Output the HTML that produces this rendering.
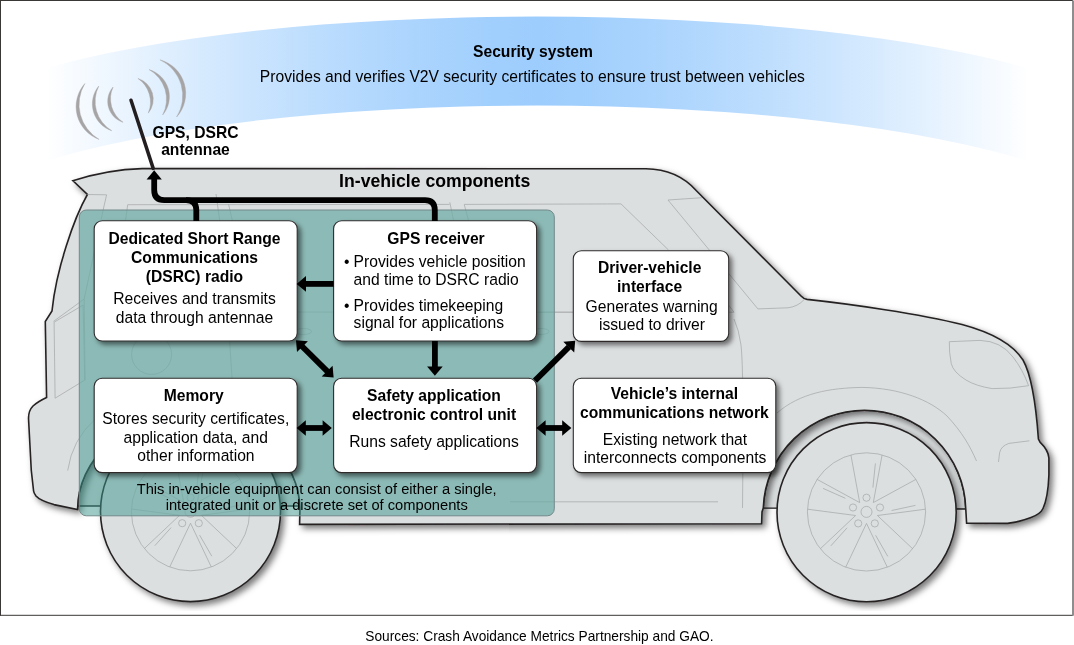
<!DOCTYPE html>
<html>
<head>
<meta charset="utf-8">
<title>In-vehicle components</title>
<style>
html,body{margin:0;padding:0;background:#fff;}
body{width:1074px;height:645px;overflow:hidden;font-family:"Liberation Sans",sans-serif;}
svg{display:block;}
text{font-family:"Liberation Sans",sans-serif;fill:#000;}
.b{font-weight:bold;}
.t{font-size:15.65px;}
</style>
</head>
<body>
<svg width="1074" height="645" viewBox="0 0 1074 645">
<defs>
  <linearGradient id="sky" x1="45" y1="0" x2="1030" y2="0" gradientUnits="userSpaceOnUse">
    <stop offset="0.00" stop-color="#9dcdfd" stop-opacity="0.000"/>
    <stop offset="0.05" stop-color="#9dcdfd" stop-opacity="0.134"/>
    <stop offset="0.10" stop-color="#9dcdfd" stop-opacity="0.265"/>
    <stop offset="0.15" stop-color="#9dcdfd" stop-opacity="0.392"/>
    <stop offset="0.20" stop-color="#9dcdfd" stop-opacity="0.513"/>
    <stop offset="0.25" stop-color="#9dcdfd" stop-opacity="0.624"/>
    <stop offset="0.30" stop-color="#9dcdfd" stop-opacity="0.725"/>
    <stop offset="0.35" stop-color="#9dcdfd" stop-opacity="0.815"/>
    <stop offset="0.40" stop-color="#9dcdfd" stop-opacity="0.891"/>
    <stop offset="0.45" stop-color="#9dcdfd" stop-opacity="0.953"/>
    <stop offset="0.50" stop-color="#9dcdfd" stop-opacity="1.000"/>
    <stop offset="0.55" stop-color="#9dcdfd" stop-opacity="0.953"/>
    <stop offset="0.60" stop-color="#9dcdfd" stop-opacity="0.891"/>
    <stop offset="0.65" stop-color="#9dcdfd" stop-opacity="0.815"/>
    <stop offset="0.70" stop-color="#9dcdfd" stop-opacity="0.725"/>
    <stop offset="0.75" stop-color="#9dcdfd" stop-opacity="0.624"/>
    <stop offset="0.80" stop-color="#9dcdfd" stop-opacity="0.513"/>
    <stop offset="0.85" stop-color="#9dcdfd" stop-opacity="0.392"/>
    <stop offset="0.90" stop-color="#9dcdfd" stop-opacity="0.265"/>
    <stop offset="0.95" stop-color="#9dcdfd" stop-opacity="0.134"/>
    <stop offset="1.00" stop-color="#9dcdfd" stop-opacity="0.000"/>
  </linearGradient>
  <filter id="carsh" x="-5%" y="-5%" width="110%" height="110%">
    <feDropShadow dx="3.4" dy="3.4" stdDeviation="3" flood-color="#000" flood-opacity="0.52"/>
  </filter>
  <filter id="boxsh" x="-10%" y="-10%" width="125%" height="125%">
    <feDropShadow dx="3.2" dy="3.2" stdDeviation="2.7" flood-color="#000" flood-opacity="0.52"/>
  </filter>
  
  <clipPath id="inT"><rect x="79.3" y="210" width="475" height="305.8" rx="7"/></clipPath>
  <clipPath id="outT"><path clip-rule="evenodd" d="M0,0H1074V645H0Z M79.3,210H554.3V515.8H79.3Z"/></clipPath>
  
  
</defs>

<!-- background -->
<rect x="0" y="0" width="1074" height="645" fill="#fff"/>

<!-- sky swoosh -->
<path id="swoosh" d="M40,70 A600,121.5 0 0 1 1034,70 L1034,163.1 A590,124.8 0 0 0 40,163.1 Z" fill="url(#sky)"/>

<!-- antenna waves -->
<g id="waves" fill="#a6a4a5" stroke="#a6a4a5" stroke-width="0.4" stroke-linejoin="round">
  <path d="M84.9,83.5 A34.8,34.8 0 0 0 99.1,139.4 A40.5,40.5 0 0 1 84.9,83.5 Z"/>
  <path d="M98.8,86 A28.2,28.2 0 0 0 111.7,130.7 A34.2,34.2 0 0 1 98.8,86 Z"/>
  <path d="M113.1,87 A21.9,21.9 0 0 0 123.1,122.3 A28.2,28.2 0 0 1 113.1,87 Z"/>
  <path d="M137.9,78.4 A21.8,21.8 0 0 1 148.3,113.1 A28.7,28.7 0 0 0 137.9,78.4 Z"/>
  <path d="M149.1,69.6 A28.2,28.2 0 0 1 162.7,114.9 A33.9,33.9 0 0 0 149.1,69.6 Z"/>
  <path d="M159.9,59.8 A34.9,34.9 0 0 1 176.6,117 A39.7,39.7 0 0 0 159.9,59.8 Z"/>
</g>

<!-- car -->
<g id="car">
  <!-- wheel wells -->
  <g fill="#dcdfe0" stroke="#262324" stroke-width="1.5">
    <path d="M763.26,508 A101.3,101.3 0 0 1 864.5,410.2 A101.3,101.3 0 0 1 965.77,509 Z"/>
    <path d="M77.55,506 L77.55,509.5 A111.2,95 0 0 1 188.75,414.5 A111.2,95 0 0 1 299.95,509.5 L299.95,506 Z"/>
  </g>
  <g filter="url(#carsh)">
    <path id="body" d="M72.8,180.7 Q108,169.5 142,168.6 L646,168.8 C668,169 684,177 696.4,190.7 L801,296 Q803.5,298.8 807,299.4 C850,304 920,314 962,324.5 C990,332 1012,343 1023,360 C1032,376 1036,405 1038.4,439 L1040.2,442.4 C1044.5,446.5 1048.3,451 1048.9,458 L1048.9,475 C1048.3,490 1046,502 1043,508.5 Q1040.5,514 1031,517.5 Q1018,522.3 1007.5,523.4 L966.6,523.2 L965.77,509 A101.3,101.3 0 0 0 864.5,410.2 A101.3,101.3 0 0 0 763.26,508 L762,512 L761.6,523.7 L299.6,524.4 L299.95,509.5 A111.2,95 0 0 0 188.75,414.5 A111.2,95 0 0 0 77.55,509.5 L54,504.6 Q40,500.5 36,496 Q33.8,493 33.6,491 L31.3,470.5 L28.6,420 Q28,411 33,406 Q38,401.5 46.6,397.5 L45.3,321.5 L52,311 C56,270 74,218 87.4,194.5 Z" fill="#dcdfe0" stroke="#262324" stroke-width="1.6" stroke-linejoin="miter"/>
  </g>
  <!-- interior detail lines -->
  <g fill="none" stroke="#a9acad" stroke-width="0.8" clip-path="url(#outT)">
    <path d="M87.4,194.5 L106.6,194.8 L103.8,207 L84.2,299 L53.5,321.4"/>
    <path d="M54.1,322.2 L83.1,305.1 L84.8,380.1 L55.1,398.2 Z"/>
    <path d="M84.2,299 L85,380"/>
    <path d="M125.6,220 L127.7,204.7 L449.5,204.4 M449.8,202.3 L453.5,220 M468.4,220 L464.2,204.4 L621,203.9 L668.5,250"/>
    <path d="M216,194 L219.7,220.4 M228.5,204 L232.3,220.4"/>
    <path d="M728.5,305 L734,312.2 M540,312.2 L573,312.2 M728,312.2 L734,312.2 M734,319 Q739,330 741,345 Q744,370 742.5,508"/>
    <path d="M757.9,308.9 L668,200 L702,197.7 M757.9,308.9 L788,307.8 Q798,306.5 804,299.7"/>
    <circle cx="151.6" cy="354.4" r="20"/>
    <ellipse cx="303.5" cy="331.5" rx="8" ry="3"/>
    <ellipse cx="541" cy="331.5" rx="8" ry="3"/>
    <path d="M232,312 L573,312.2"/>
    <path d="M228,220 Q226,300 232,378"/>
    <path d="M67.7,470.5 Q72,440 95,419.3"/>
    <path d="M510,501.8 L718,501.8"/>
    <!-- headlight -->
    <path d="M949.3,341.7 L980,340.4 Q1001,341 1013,357 Q1023,370 1028.6,385.7 Q1010,389 992.1,388.6 Q976,386 966.1,380.1 Q953,372 951.2,363.3 Q949,352 949.3,341.7 Z"/>
    <path d="M1029.4,440.8 L1008.9,443.4 Q1001,446 999.6,452.7 L998.5,462"/>
    <path d="M777,413 C800,393 830,388 862,387.4 C900,388 930,400 947,416 C962,432 970,446 976.5,461"/>
  </g>
  <g fill="none" stroke="#a9acad" stroke-width="0.8" clip-path="url(#inT)" opacity="0.55">
    <path d="M87.4,194.5 L106.6,194.8 L103.8,207 L84.2,299 L53.5,321.4"/>
    <path d="M54.1,322.2 L83.1,305.1 L84.8,380.1 L55.1,398.2 Z"/>
    <path d="M84.2,299 L85,380"/>
    <path d="M125.6,220 L127.7,204.7 L449.5,204.4 M449.8,202.3 L453.5,220 M468.4,220 L464.2,204.4 L621,203.9 L668.5,250"/>
    <path d="M216,194 L219.7,220.4 M228.5,204 L232.3,220.4"/>
    <path d="M728.5,305 L734,312.2 M540,312.2 L573,312.2 M728,312.2 L734,312.2 M734,319 Q739,330 741,345 Q744,370 742.5,508"/>
    <path d="M757.9,308.9 L668,200 L702,197.7 M757.9,308.9 L788,307.8 Q798,306.5 804,299.7"/>
    <circle cx="151.6" cy="354.4" r="20"/>
    <ellipse cx="303.5" cy="331.5" rx="8" ry="3"/>
    <ellipse cx="541" cy="331.5" rx="8" ry="3"/>
    <path d="M232,312 L573,312.2"/>
    <path d="M228,220 Q226,300 232,378"/>
    <path d="M67.7,470.5 Q72,440 95,419.3"/>
    <path d="M510,501.8 L718,501.8"/>
    <!-- headlight -->
    <path d="M949.3,341.7 L980,340.4 Q1001,341 1013,357 Q1023,370 1028.6,385.7 Q1010,389 992.1,388.6 Q976,386 966.1,380.1 Q953,372 951.2,363.3 Q949,352 949.3,341.7 Z"/>
    <path d="M1029.4,440.8 L1008.9,443.4 Q1001,446 999.6,452.7 L998.5,462"/>
    <path d="M777,413 C800,393 830,388 862,387.4 C900,388 930,400 947,416 C962,432 970,446 976.5,461"/>
  </g>
  <!-- wheels -->
  <g filter="url(#carsh)">
    <circle cx="190.5" cy="511.6" r="90" fill="#dcdfe0" stroke="#262324" stroke-width="1.6"/>
    <circle cx="866.6" cy="512.2" r="89.6" fill="#dcdfe0" stroke="#262324" stroke-width="1.6"/>
  </g>
  <g fill="none" stroke="#a9acad" stroke-width="0.8" clip-path="url(#outT)">
    <circle cx="190.5" cy="511.7" r="59.1"/>
    <circle cx="190.5" cy="511.7" r="5.5"/>
    <circle cx="190.5" cy="497.5" r="3.6"/>
    <path d="M211.3,567.0 L190.5,523.2 L169.7,567.0"/>
    <path d="M199.6,535.1 L211.8,556.2"/>
    <circle cx="204.0" cy="507.3" r="3.6"/>
    <path d="M144.3,548.6 L179.6,515.3 L131.5,509.0"/>
    <path d="M171.1,527.6 L154.8,545.7"/>
    <circle cx="198.8" cy="523.2" r="3.6"/>
    <path d="M141.1,479.2 L183.7,502.4 L174.9,454.7"/>
    <path d="M169.4,498.1 L147.1,488.2"/>
    <circle cx="182.2" cy="523.2" r="3.6"/>
    <path d="M206.1,454.7 L197.3,502.4 L239.9,479.2"/>
    <path d="M196.9,487.4 L199.4,463.2"/>
    <circle cx="177.0" cy="507.3" r="3.6"/>
    <path d="M249.5,509.0 L201.4,515.3 L236.7,548.6"/>
    <path d="M215.6,510.3 L239.4,505.2"/>
    <circle cx="866.5" cy="511.9" r="59.1"/>
    <circle cx="866.5" cy="511.9" r="5.5"/>
    <circle cx="866.5" cy="497.7" r="3.6"/>
    <path d="M887.3,567.2 L866.5,523.4 L845.7,567.2"/>
    <path d="M875.6,535.3 L887.8,556.4"/>
    <circle cx="880.0" cy="507.5" r="3.6"/>
    <path d="M820.3,548.8 L855.6,515.5 L807.5,509.2"/>
    <path d="M847.1,527.8 L830.8,545.9"/>
    <circle cx="874.8" cy="523.4" r="3.6"/>
    <path d="M817.1,479.4 L859.7,502.6 L850.9,454.9"/>
    <path d="M845.4,498.3 L823.1,488.4"/>
    <circle cx="858.2" cy="523.4" r="3.6"/>
    <path d="M882.1,454.9 L873.3,502.6 L915.9,479.4"/>
    <path d="M872.9,487.6 L875.4,463.4"/>
    <circle cx="853.0" cy="507.5" r="3.6"/>
    <path d="M925.5,509.2 L877.4,515.5 L912.7,548.8"/>
    <path d="M891.6,510.5 L915.4,505.4"/>
  </g>
  <g fill="none" stroke="#a9acad" stroke-width="0.8" clip-path="url(#inT)" opacity="0.55">
    <circle cx="190.5" cy="511.7" r="59.1"/>
    <circle cx="190.5" cy="511.7" r="5.5"/>
    <circle cx="190.5" cy="497.5" r="3.6"/>
    <path d="M211.3,567.0 L190.5,523.2 L169.7,567.0"/>
    <path d="M199.6,535.1 L211.8,556.2"/>
    <circle cx="204.0" cy="507.3" r="3.6"/>
    <path d="M144.3,548.6 L179.6,515.3 L131.5,509.0"/>
    <path d="M171.1,527.6 L154.8,545.7"/>
    <circle cx="198.8" cy="523.2" r="3.6"/>
    <path d="M141.1,479.2 L183.7,502.4 L174.9,454.7"/>
    <path d="M169.4,498.1 L147.1,488.2"/>
    <circle cx="182.2" cy="523.2" r="3.6"/>
    <path d="M206.1,454.7 L197.3,502.4 L239.9,479.2"/>
    <path d="M196.9,487.4 L199.4,463.2"/>
    <circle cx="177.0" cy="507.3" r="3.6"/>
    <path d="M249.5,509.0 L201.4,515.3 L236.7,548.6"/>
    <path d="M215.6,510.3 L239.4,505.2"/>
    <circle cx="866.5" cy="511.9" r="59.1"/>
    <circle cx="866.5" cy="511.9" r="5.5"/>
    <circle cx="866.5" cy="497.7" r="3.6"/>
    <path d="M887.3,567.2 L866.5,523.4 L845.7,567.2"/>
    <path d="M875.6,535.3 L887.8,556.4"/>
    <circle cx="880.0" cy="507.5" r="3.6"/>
    <path d="M820.3,548.8 L855.6,515.5 L807.5,509.2"/>
    <path d="M847.1,527.8 L830.8,545.9"/>
    <circle cx="874.8" cy="523.4" r="3.6"/>
    <path d="M817.1,479.4 L859.7,502.6 L850.9,454.9"/>
    <path d="M845.4,498.3 L823.1,488.4"/>
    <circle cx="858.2" cy="523.4" r="3.6"/>
    <path d="M882.1,454.9 L873.3,502.6 L915.9,479.4"/>
    <path d="M872.9,487.6 L875.4,463.4"/>
    <circle cx="853.0" cy="507.5" r="3.6"/>
    <path d="M925.5,509.2 L877.4,515.5 L912.7,548.8"/>
    <path d="M891.6,510.5 L915.4,505.4"/>
  </g>
</g>

<!-- teal panel -->
<rect id="teal" x="79.3" y="210" width="475" height="305.8" rx="7" ry="7" fill="rgb(60,150,140)" fill-opacity="0.5" stroke="#73898a" stroke-width="1"/>

<!-- boxes -->
<g id="boxes" filter="url(#boxsh)" fill="#fff" stroke="#2e2c2c" stroke-width="1.1">
  <rect x="94.2" y="220.7" width="203" height="120.3" rx="8"/>
  <rect x="333.6" y="220.7" width="203" height="120.3" rx="8"/>
  <rect x="94.2" y="378.2" width="203" height="94.4" rx="8"/>
  <rect x="333.6" y="378.2" width="203" height="94.4" rx="8"/>
  <rect x="573.3" y="250.8" width="155.4" height="90.6" rx="8"/>
  <rect x="573.3" y="378.2" width="202.5" height="94.4" rx="8"/>
</g>

<!-- arrows -->
<g id="arrows" fill="#000" stroke="#000" stroke-width="5.8">
  <!-- antenna mast -->
  <path d="M131,100.2 L153.2,168.4" fill="none" stroke="#231f20" stroke-width="3.5" stroke-linecap="round"/>
  <!-- bus from GPS and DSRC to antenna -->
  <path d="M434.8,221 L434.8,210 Q434.8,200.1 425,200.1 L164.2,200.1 Q154.2,200.1 154.2,190 L154.2,178.5" fill="none"/>
  <path d="M196.3,221 L196.3,210 Q196.3,200.1 186,200.1" fill="none"/>
  <path d="M154.2,170.2 L161.8,179.4 L146.6,179.4 Z" stroke="none"/>
  <!-- GPS to DSRC -->
  <path d="M333.6,283.9 L305,283.9" fill="none"/>
  <path d="M296.6,283.9 L306,276.1 L306,291.7 Z" stroke="none"/>
  <!-- GPS to Safety -->
  <path d="M434.9,341 L434.9,367" fill="none"/>
  <path d="M434.9,375.7 L427.1,366.4 L442.7,366.4 Z" stroke="none"/>
  <!-- Memory <-> Safety -->
  <path d="M305,428 L323,428" fill="none"/>
  <path d="M296.6,428 L305.8,420.2 L305.8,435.8 Z" stroke="none"/>
  <path d="M331.8,428 L322.6,420.2 L322.6,435.8 Z" stroke="none"/>
  <!-- Safety <-> Vehicle network -->
  <path d="M545,428 L563,428" fill="none"/>
  <path d="M536.4,428 L545.6,420.2 L545.6,435.8 Z" stroke="none"/>
  <path d="M571.4,428 L562.2,420.2 L562.2,435.8 Z" stroke="none"/>
  <!-- DSRC <-> Safety diagonal -->
  <path d="M302,346.2 L327.6,371.6" fill="none"/>
  <path d="M296,340.2 L307.9,341.2 L297,352.1 Z" stroke="none"/>
  <path d="M333.6,377.6 L321.7,376.6 L332.6,365.7 Z" stroke="none"/>
  <!-- Safety -> Driver diagonal -->
  <path d="M535,380.6 L569,346.9" fill="none"/>
  <path d="M575.2,340.7 L563.3,341.7 L574.2,352.6 Z" stroke="none"/>
</g>

<!-- text -->
<g id="labels" text-anchor="middle" opacity="0.999">
  <text class="t b" x="533" y="56.6">Security system</text>
  <text class="t" x="532.4" y="81.9">Provides and verifies V2V security certificates to ensure trust between vehicles</text>
  <text class="t b" x="195.5" y="138.0">GPS, DSRC</text>
  <text class="t b" x="195.5" y="155.0">antennae</text>
  <text class="b" x="434.7" y="186.8" font-size="17.65px">In-vehicle components</text>

  <text class="t b" x="194.5" y="244.2">Dedicated Short Range</text>
  <text class="t b" x="194.5" y="263.1">Communications</text>
  <text class="t b" x="194.5" y="281.9">(DSRC) radio</text>
  <text class="t" x="194.5" y="304.1">Receives and transmits</text>
  <text class="t" x="194.5" y="322.9">data through antennae</text>

  <text class="t b" x="436" y="244.2">GPS receiver</text>

  <text class="t b" x="193.7" y="401.1">Memory</text>
  <text class="t" x="195.8" y="424.3">Stores security certificates,</text>
  <text class="t" x="195.7" y="443.1">application data, and</text>
  <text class="t" x="195.9" y="461.3">other information</text>

  <text class="t b" x="434" y="401.1">Safety application</text>
  <text class="t b" x="434" y="420.2">electronic control unit</text>
  <text class="t" x="434" y="447.2">Runs safety applications</text>

  <text class="t b" x="649.7" y="273.1">Driver-vehicle</text>
  <text class="t b" x="649.6" y="292.0">interface</text>
  <text class="t" x="651.7" y="311.7">Generates warning</text>
  <text class="t" x="652" y="329.9">issued to driver</text>

  <text class="t b" x="674.4" y="399.1">Vehicle’s internal</text>
  <text class="t b" x="674.4" y="418.0">communications network</text>
  <text class="t" x="675" y="444.5">Existing network that</text>
  <text class="t" x="675.1" y="463.4">interconnects components</text>

  <text x="316.7" y="494.1" font-size="14.7px">This in-vehicle equipment can consist of either a single,</text>
  <text x="316.7" y="509.8" font-size="14.7px">integrated unit or a discrete set of components</text>
</g>
<g id="gpslist" opacity="0.999">
  <text class="t" x="344" y="267.2">•</text>
  <text class="t" x="353.6" y="267.2">Provides vehicle position</text>
  <text class="t" x="353.6" y="284.6">and time to DSRC radio</text>
  <text class="t" x="344" y="310.8">•</text>
  <text class="t" x="353.6" y="310.8">Provides timekeeping</text>
  <text class="t" x="353.6" y="328.2">signal for applications</text>
</g>

<text x="365.3" y="640.5" font-size="13.72px" opacity="0.999">Sources: Crash Avoidance Metrics Partnership and GAO.</text>

<!-- frame -->
<rect x="0" y="0" width="1073" height="1" fill="#3a3837"/>
<rect x="0" y="0" width="1" height="615.6" fill="#3a3837"/>
<rect x="0" y="614.8" width="1073" height="1" fill="#3a3837"/>
<rect x="1072" y="0.5" width="2" height="615.2" fill="#8f8d8d"/>
</svg>
</body>
</html>
